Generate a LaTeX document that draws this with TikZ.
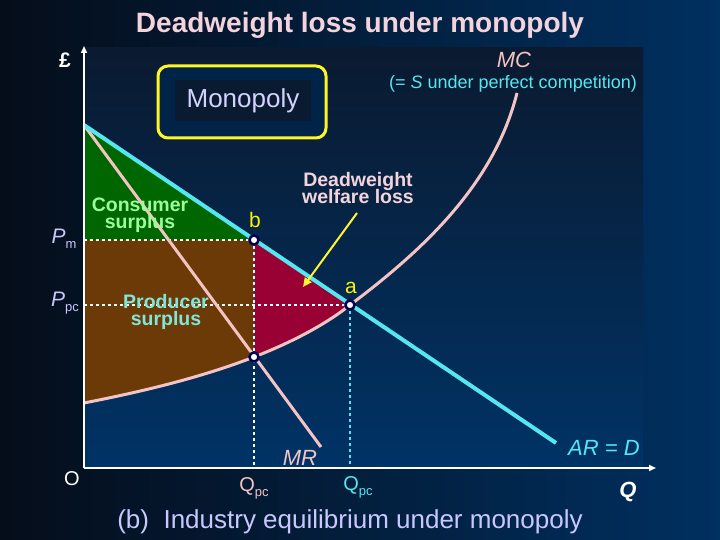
\documentclass[tikz,border=0pt]{standalone}
\usepackage{fontspec}
\setmainfont{Liberation Sans}
\usetikzlibrary{arrows.meta}
\definecolor{cyanD}{HTML}{55E6F0}
\definecolor{pinkC}{HTML}{F4C4C4}
\definecolor{titlec}{HTML}{F4D4DC}
\definecolor{greenA}{HTML}{006600}
\definecolor{brownA}{HTML}{6B3A06}
\definecolor{redA}{HTML}{990033}
\definecolor{lav}{HTML}{C8C8FF}
\definecolor{cgreen}{HTML}{99FF99}
\definecolor{ccyan}{HTML}{80E6D8}
\definecolor{bgL}{HTML}{050D1A}
\definecolor{bgR}{HTML}{003060}
\definecolor{plA}{HTML}{003366}
\definecolor{plB}{HTML}{0A1A30}
\definecolor{navy}{HTML}{000050}
\tikzset{
  lbl/.style={inner sep=1pt,font=\fontsize{21}{23}\selectfont},
  blbl/.style={inner sep=1pt,align=center,font=\bfseries\fontsize{19.5}{21}\selectfont},
  dot/.style={circle,draw=navy,fill=white,line width=2.5pt,inner sep=0pt,minimum size=9pt},
  dashln/.style={white,dashed,line width=1.2pt},
}
\begin{document}
\begin{tikzpicture}[x=1pt,y=-1pt]
\useasboundingbox (0,0) rectangle (720,540);
\shade[left color=bgL,right color=bgR] (0,0) rectangle (720,540);
\shade[shading angle=45,bottom color=plA,top color=plB] (84,48) rectangle (643,468);
\node[font=\bfseries\fontsize{28}{30}\selectfont,text=titlec] (title) at (360,25) {Deadweight loss under monopoly};
% regions
\fill[greenA] (84,125) -- (254,240) -- (84,240) -- cycle;
\fill[brownA] (84,240) -- (254,240) -- (254,357) .. controls (200,378) and (140,392) .. (84,403) -- cycle;
\fill[redA] (254,240) -- (350,305) .. controls (325,325) and (290,343) .. (254,357) -- cycle;
% coordinates
\coordinate (top) at (84,125);
\coordinate (b) at (254,240);
\coordinate (a) at (350,305);
\coordinate (c) at (254,357);
\coordinate (Dend) at (556,443);
\coordinate (MRend) at (321,447);
\coordinate (MCs) at (84,403);
\coordinate (MCe) at (517,93);
\coordinate (O) at (84,468);
\coordinate (yend) at (84,46);
\coordinate (xend) at (656,468);
\coordinate (pm) at (84,240);
\coordinate (ppc) at (84,305);
\coordinate (qm) at (254,468);
\coordinate (qpc) at (350,468);
% dashed
\draw[dashln] (pm) -- (b);
\draw[dashln] (ppc) -- (a);
\draw[dashln] (b) -- (qm);
\draw[cyanD,dashed,line width=1.2pt] (a) -- (qpc);
% curves
\draw[pinkC,line width=3pt] (top) -- (MRend);
\draw[pinkC,line width=3pt] (MCs) .. controls (140,392) and (200,378) .. (c) .. controls (290,343) and (325,325) .. (a) .. controls (430,245) and (495,180) .. (MCe);
\draw[cyanD,line width=4pt] (top) -- (Dend);
% axes
\draw[white,line width=2pt,-{Triangle[length=7pt,width=6pt]}] (O) -- (yend);
\draw[white,line width=2pt,-{Triangle[length=7pt,width=6pt]}] (O) -- (xend);
% dots
\node[dot] (bd) at (b) {};
\node[dot] (ad) at (a) {};
\node[dot] (cd) at (c) {};
% labels
\node[lbl,text=yellow] (bl) at (255,220) {b};
\node[lbl,text=yellow] (al) at (351,288) {a};
\node[blbl,text=cgreen] (cs) at (140,215) {Consumer\\[-4pt]surplus};
\node[blbl,text=ccyan] (ps) at (166,312) {Producer\\[-4pt]surplus};
\node[blbl,text=titlec] (dw) at (358,188) {Deadweight\\[-4pt]welfare loss};
\coordinate (arrS) at (357,213);
\coordinate (arrE) at (303,287);
\draw[yellow!80!white,line width=2pt,-{Triangle[length=9pt,width=8pt]}] (arrS) -- (arrE);
% monopoly box
\draw[yellow!85!white,line width=3pt,rounded corners=10pt,fill=plA!70!black] (158,66) rectangle (326,138);
\fill[plB] (175,80) rectangle (311,121);
\node[text=lav!80!white,font=\fontsize{26}{28}\selectfont] (mono) at (243,101) {Monopoly};
% axis labels
\node[text=white,font=\bfseries\fontsize{21}{23}\selectfont] (pound) at (65,60) {£};
\node[text=lav,font=\fontsize{21}{23}\selectfont] (pmL) at (64,239) {\textit{P}\raisebox{-5pt}{\fontsize{13}{13}\selectfont m}};
\node[text=lav,font=\fontsize{21}{23}\selectfont] (ppcL) at (65,303) {\textit{P}\raisebox{-5pt}{\fontsize{13}{13}\selectfont pc}};
\node[text=white,font=\fontsize{20}{22}\selectfont] (oL) at (72,479) {O};
\node[text=pinkC,font=\fontsize{20}{22}\selectfont] (q1) at (254,488) {Q\raisebox{-5pt}{\fontsize{13}{13}\selectfont pc}};
\node[text=cyanD,font=\fontsize{20}{22}\selectfont] (q2) at (358,487) {Q\raisebox{-5pt}{\fontsize{13}{13}\selectfont pc}};
\node[text=white,font=\bfseries\itshape\fontsize{22}{24}\selectfont] (qL) at (628,492) {Q};
\node[text=pinkC,font=\itshape\fontsize{22}{24}\selectfont] (mrL) at (300,458) {MR};
\node[text=cyanD,font=\itshape\fontsize{22}{24}\selectfont] (adL) at (604,448) {AR = D};
\node[text=pinkC,font=\itshape\fontsize{22}{24}\selectfont] (mcL) at (514,60) {MC};
\node[text=cyanD,font=\fontsize{18}{20}\selectfont] (sL) at (513,84) {(= \textit{S} under perfect competition)};
\node[text=lav,font=\fontsize{26}{28}\selectfont] (sub) at (350,522) {(b)\ \ Industry equilibrium under monopoly};
\end{tikzpicture}
\end{document}
